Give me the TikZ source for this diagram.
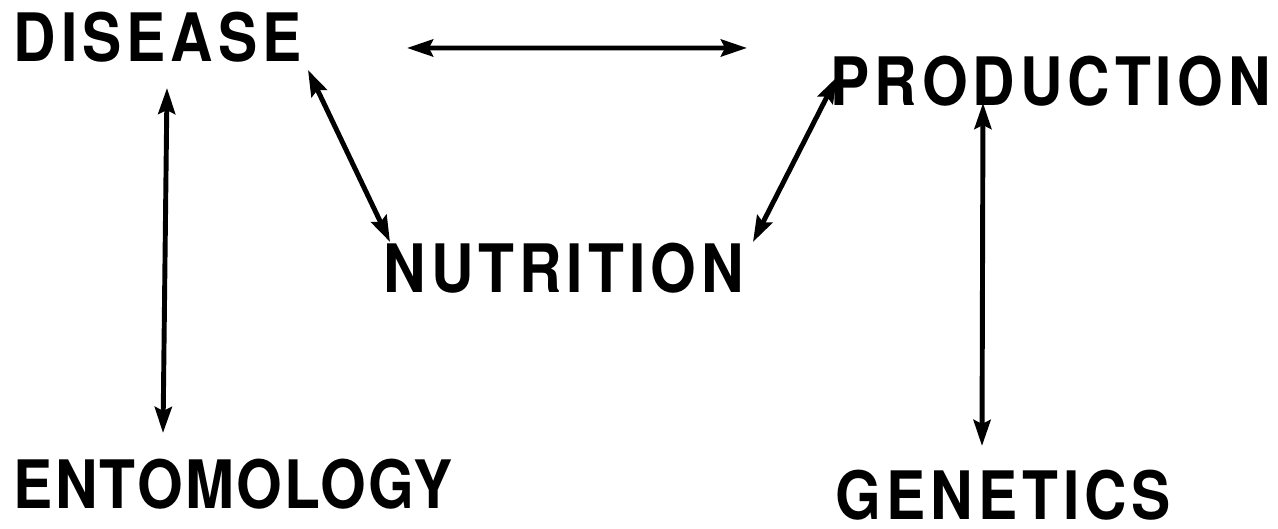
\documentclass[tikz,border=0pt]{standalone}
\usepackage{fontspec}
\setmainfont{TeX Gyre Heros}
\newfontfamily\labelfont{TeX Gyre Heros}[FakeStretch=0.88, LetterSpace=7.5]
\newfontfamily\tightlabelfont{TeX Gyre Heros}[FakeStretch=0.88, LetterSpace=3.5]
\usepackage{tikz}
\usetikzlibrary{arrows.meta}
\usetikzlibrary{positioning}
\tikzset{topic/.style={inner sep=0pt, anchor=west, font=\fontsize{19}{19}\labelfont\bfseries},
	tighttopic/.style={topic, font=\fontsize{19}{19}\tightlabelfont\bfseries},
	link/.style={line width=1.4pt, {Stealth[length=0.26cm, width=0.17cm, inset=0.04cm]}-{Stealth[length=0.26cm, width=0.17cm, inset=0.04cm]}}}

\begin{document}
\begin{tikzpicture}

	\useasboundingbox (0,0) rectangle (12.78,5.29);

	\node[topic] (dis) at (0.13,4.92) {DISEASE};
	\node[topic] (prod) at (8.30,4.48) {PRODUCTION};
	\node[topic] (nut) at (3.83,2.61) {NUTRITION};
	\node[tighttopic] (ent) at (0.13,0.45) {ENTOMOLOGY};
	\node[topic] (gen) at (8.35,0.34) {GENETICS};

	\draw[link] ([shift={(3.94,-0.11)}]dis.west) -- ([shift={(-0.83,0.33)}]prod.west);
	\draw[link] ([shift={(2.95,-0.33)}]dis.west) -- ([shift={(0.07,0.26)}]nut.west);
	\draw[link] ([shift={(0.07,0.04)}]prod.west) -- ([shift={(3.70,0.26)}]nut.west);
	\draw[link] ([shift={(1.54,-0.51)}]dis.west) -- ([shift={(1.50,0.51)}]ent.west);
	\draw[link] ([shift={(1.53,-0.22)}]prod.west) -- ([shift={(1.47,0.49)}]gen.west);

\end{tikzpicture}
\end{document}
